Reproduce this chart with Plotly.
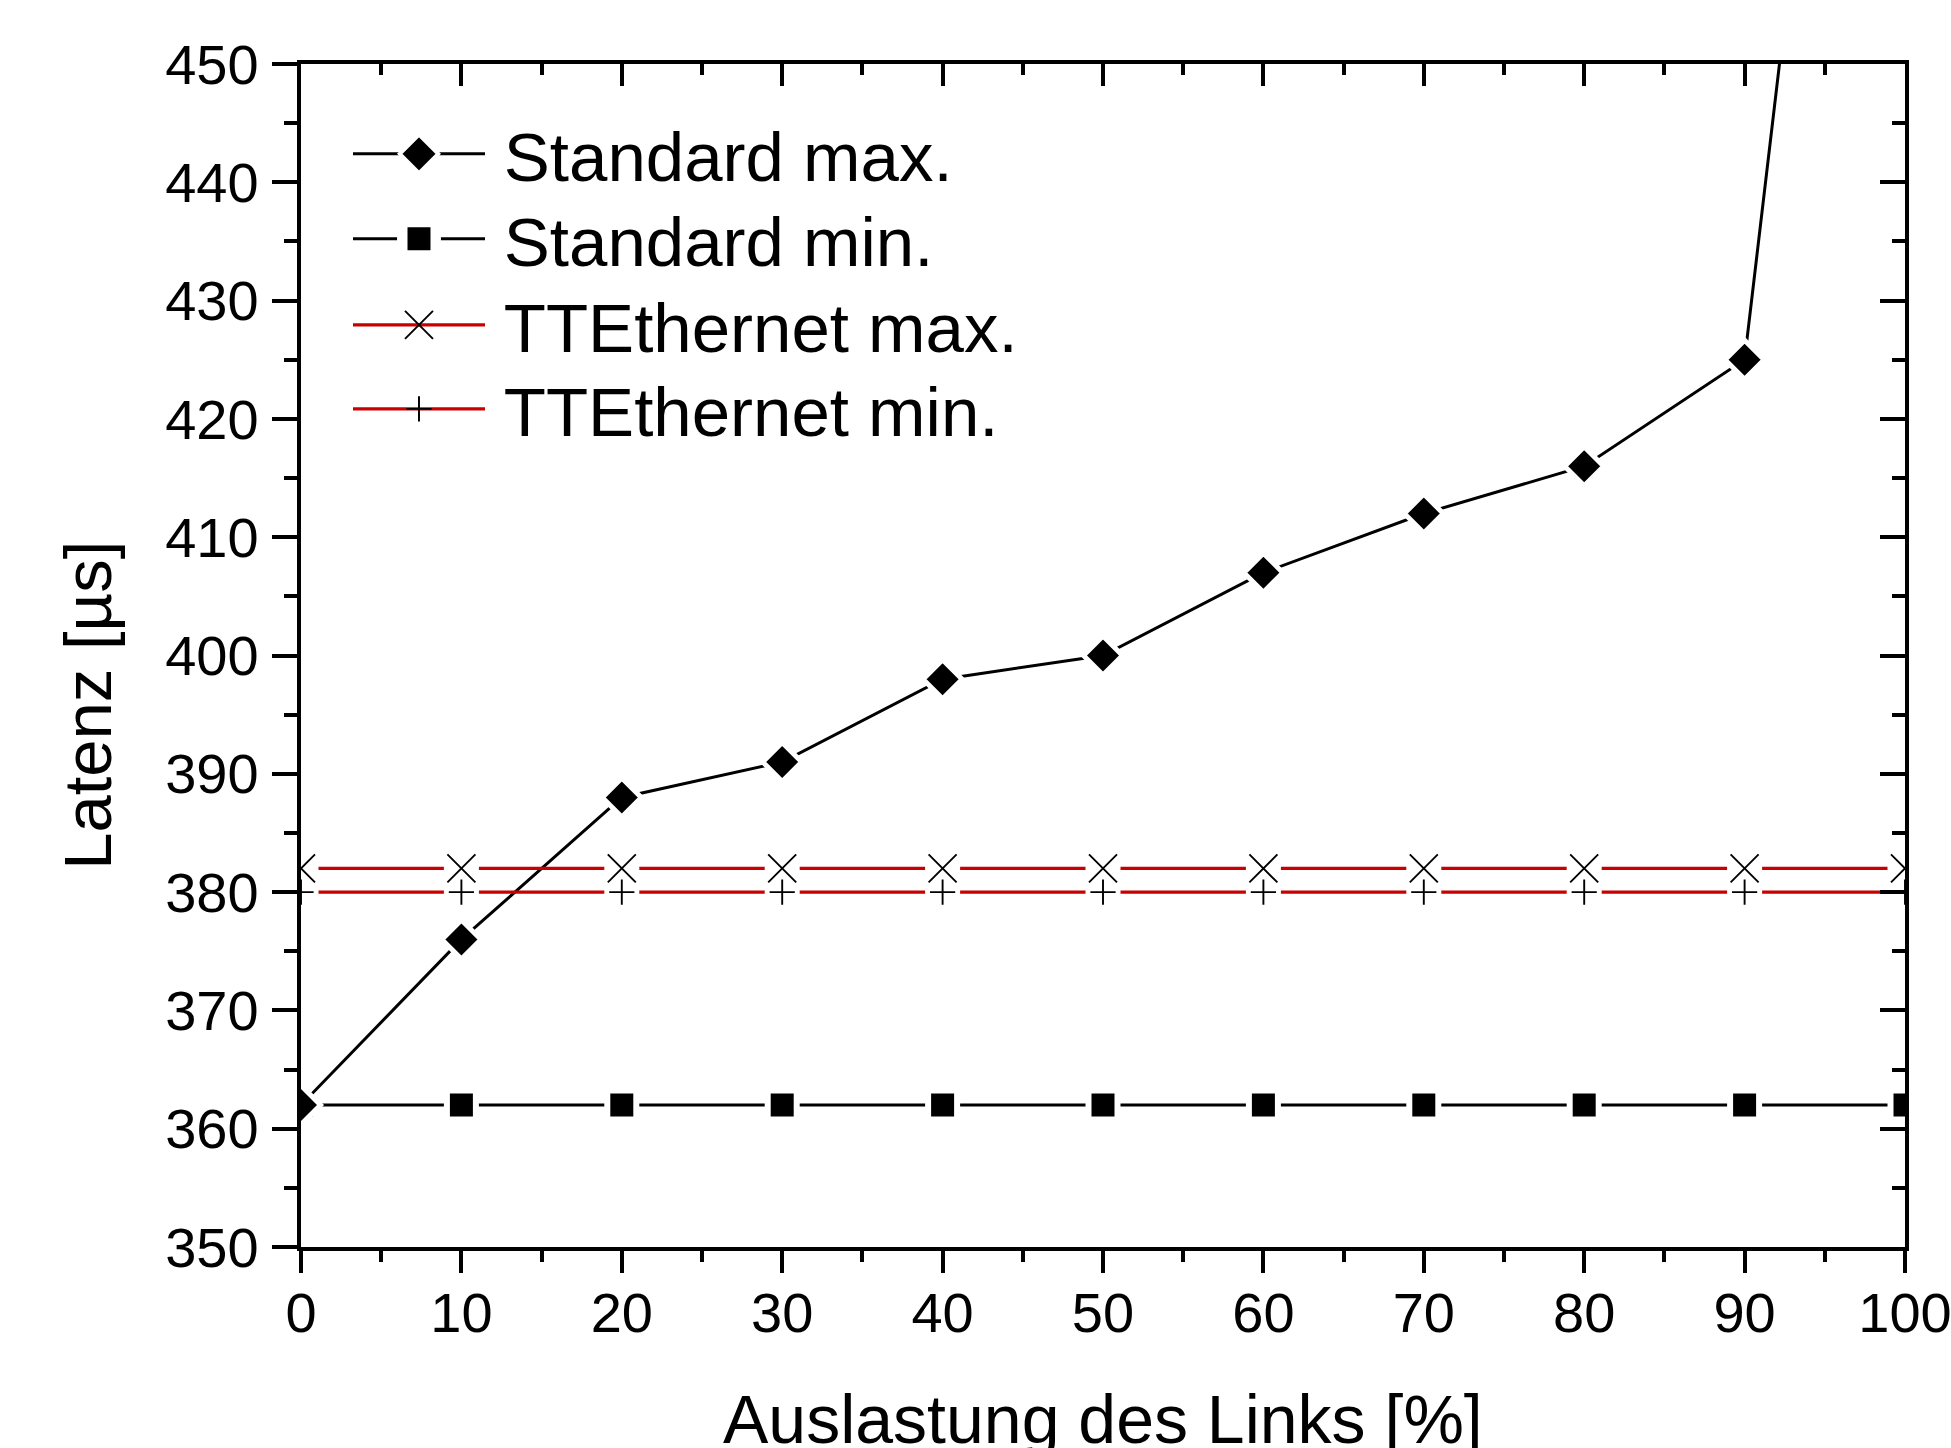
import plotly.graph_objects as go

# ---- data ----
load_pct = [0, 10, 20, 30, 40, 50, 60, 70, 80, 90, 100]
std_max = [362, 376, 388, 391, 398, 400, 407, 412, 416, 425, 540]
std_min = [362, 362, 362, 362, 362, 362, 362, 362, 362, 362, 362]
tte_max = [382, 382, 382, 382, 382, 382, 382, 382, 382, 382, 382]
tte_min = [380, 380, 380, 380, 380, 380, 380, 380, 380, 380, 380]

x_ticks = [0, 10, 20, 30, 40, 50, 60, 70, 80, 90, 100]
y_ticks = [350, 360, 370, 380, 390, 400, 410, 420, 430, 440, 450]

series_names = ["Standard max.", "Standard min.", "TTEthernet max.", "TTEthernet min."]

FONT = "Liberation Sans, Arial, sans-serif"
RED = "#C80000"
W, H = 1951, 1448
ML, MR, MT, MB = 301, 46, 64, 201
LW_BLACK = 3.0
LW_RED = 3.2

fig = go.Figure()

# Standard min (squares with white halo)
fig.add_trace(go.Scatter(
    x=load_pct, y=std_min, mode="lines+markers", showlegend=False,
    line=dict(color="black", width=LW_BLACK),
    marker=dict(symbol="square", size=29, color="black",
                line=dict(color="white", width=6))))

# Standard max (diamonds with white halo)
fig.add_trace(go.Scatter(
    x=load_pct, y=std_max, mode="lines+markers", showlegend=False,
    line=dict(color="black", width=LW_BLACK),
    marker=dict(symbol="diamond", size=30, color="black",
                line=dict(color="white", width=5))))

# TTEthernet lines
for ys in (tte_max, tte_min):
    fig.add_trace(go.Scatter(x=load_pct, y=ys, mode="lines",
                             line=dict(color=RED, width=LW_RED),
                             showlegend=False, hoverinfo="skip"))
# white gaps around TTEthernet markers
for ys in (tte_max, tte_min):
    fig.add_trace(go.Scatter(x=load_pct, y=ys, mode="markers",
                             marker=dict(symbol="square", size=35, color="white",
                                         line=dict(width=0)),
                             showlegend=False, hoverinfo="skip"))
# TTEthernet markers
fig.add_trace(go.Scatter(x=load_pct, y=tte_max, mode="markers",
                         marker=dict(symbol="x-thin", size=28,
                                     line=dict(color="black", width=1.9)),
                         showlegend=False, hoverinfo="skip"))
fig.add_trace(go.Scatter(x=load_pct, y=tte_min, mode="markers",
                         marker=dict(symbol="cross-thin", size=18,
                                     line=dict(color="black", width=1.9)),
                         showlegend=False, hoverinfo="skip"))

# legend entries (one legend per entry for exact row placement)
legend_styles = [
    dict(line=dict(color="black", width=LW_BLACK),
         marker=dict(symbol="diamond", size=16, color="black",
                     line=dict(color="white", width=2.1))),
    dict(line=dict(color="black", width=LW_BLACK),
         marker=dict(symbol="square", size=16, color="black",
                     line=dict(color="white", width=5))),
    dict(line=dict(color=RED, width=LW_RED),
         marker=dict(symbol="x-thin", size=16,
                     line=dict(color="black", width=1.1))),
    dict(line=dict(color=RED, width=LW_RED),
         marker=dict(symbol="cross-thin", size=12,
                     line=dict(color="black", width=1.3))),
]
legend_ids = ["legend", "legend2", "legend3", "legend4"]
for name, st, lid in zip(series_names, legend_styles, legend_ids):
    fig.add_trace(go.Scatter(x=[None], y=[None], name="\u2009" + name,
                             mode="lines+markers", legend=lid,
                             hoverinfo="skip", **st))

# dummy trace for mirrored (inside-tick) axes
fig.add_trace(go.Scatter(x=[None], y=[None], xaxis="x2", yaxis="y2",
                         showlegend=False, hoverinfo="skip"))

axis_common = dict(showgrid=False, zeroline=False, showline=True,
                   linecolor="black", linewidth=4.3, tickcolor="black",
                   tickwidth=4, automargin=False)

row_px = [154, 239, 325, 409]
plot_h = H - MT - MB
leg_common = dict(x=0.0293, xanchor="left", yanchor="middle",
                  bgcolor="rgba(0,0,0,0)", borderwidth=0,
                  font=dict(size=69, family=FONT, color="black"),
                  itemwidth=132)
legends = {}
for lid, py in zip(legend_ids, row_px):
    legends[lid] = dict(y=1 - (py - MT) / plot_h, **leg_common)

fig.update_layout(
    template="none",
    width=W, height=H,
    margin=dict(l=ML, r=MR, t=MT, b=MB, pad=0, autoexpand=False),
    paper_bgcolor="white", plot_bgcolor="white",
    font=dict(family=FONT, color="black"),
    xaxis=dict(range=[0, 100], tickvals=x_ticks, ticks="outside", ticklen=22,
               tickfont=dict(size=56), ticklabelstandoff=-8,
               ticklabeloverflow="allow",
               minor=dict(ticks="outside", ticklen=11, dtick=5, tick0=0,
                          tickwidth=4, tickcolor="black"),
               **axis_common),
    yaxis=dict(range=[350, 450], tickvals=y_ticks, ticks="outside", ticklen=25,
               tickfont=dict(size=56), ticklabelstandoff=2,
               ticklabeloverflow="allow",
               minor=dict(ticks="outside", ticklen=13, dtick=5, tick0=350,
                          tickwidth=4, tickcolor="black"),
               **axis_common),
    xaxis2=dict(range=[0, 100], overlaying="x", side="top", anchor="y2",
                tickvals=x_ticks, ticks="inside", ticklen=22,
                showticklabels=False,
                minor=dict(ticks="inside", ticklen=11, dtick=5, tick0=0,
                           tickwidth=4, tickcolor="black"),
                **axis_common),
    yaxis2=dict(range=[350, 450], overlaying="y", side="right", anchor="x2",
                tickvals=y_ticks, ticks="inside", ticklen=25,
                showticklabels=False,
                minor=dict(ticks="inside", ticklen=13, dtick=5, tick0=350,
                           tickwidth=4, tickcolor="black"),
                **axis_common),
    showlegend=True,
    annotations=[
        dict(text="Auslastung des Links [%]", xref="paper", yref="paper",
             x=0.5, y=-0.1116, xanchor="center", yanchor="top",
             showarrow=False, font=dict(size=68, family=FONT)),
        dict(text="Latenz [µs]", xref="paper", yref="paper",
             x=-0.133, y=0.458, xanchor="center", yanchor="middle",
             textangle=-90, showarrow=False, font=dict(size=67, family=FONT)),
    ],
    **legends,
)

post = """
document.body.style.margin = '0';
document.body.style.overflow = 'hidden';
var gd = document.getElementById('{plot_id}');
var scales = {legend: 1.85, legend2: 2.09, legend3: 1.75, legend4: 1.5};
Object.keys(scales).forEach(function (k) {
  gd.querySelectorAll('g.' + k + ' .legendpoints path.scatterpts').forEach(function (p) {
    var t = p.getAttribute('transform') || '';
    p.setAttribute('transform', t + ' scale(' + scales[k] + ')');
  });
});
"""

fig.write_html("out.html", post_script=post,
               config={"displayModeBar": False, "responsive": False})
